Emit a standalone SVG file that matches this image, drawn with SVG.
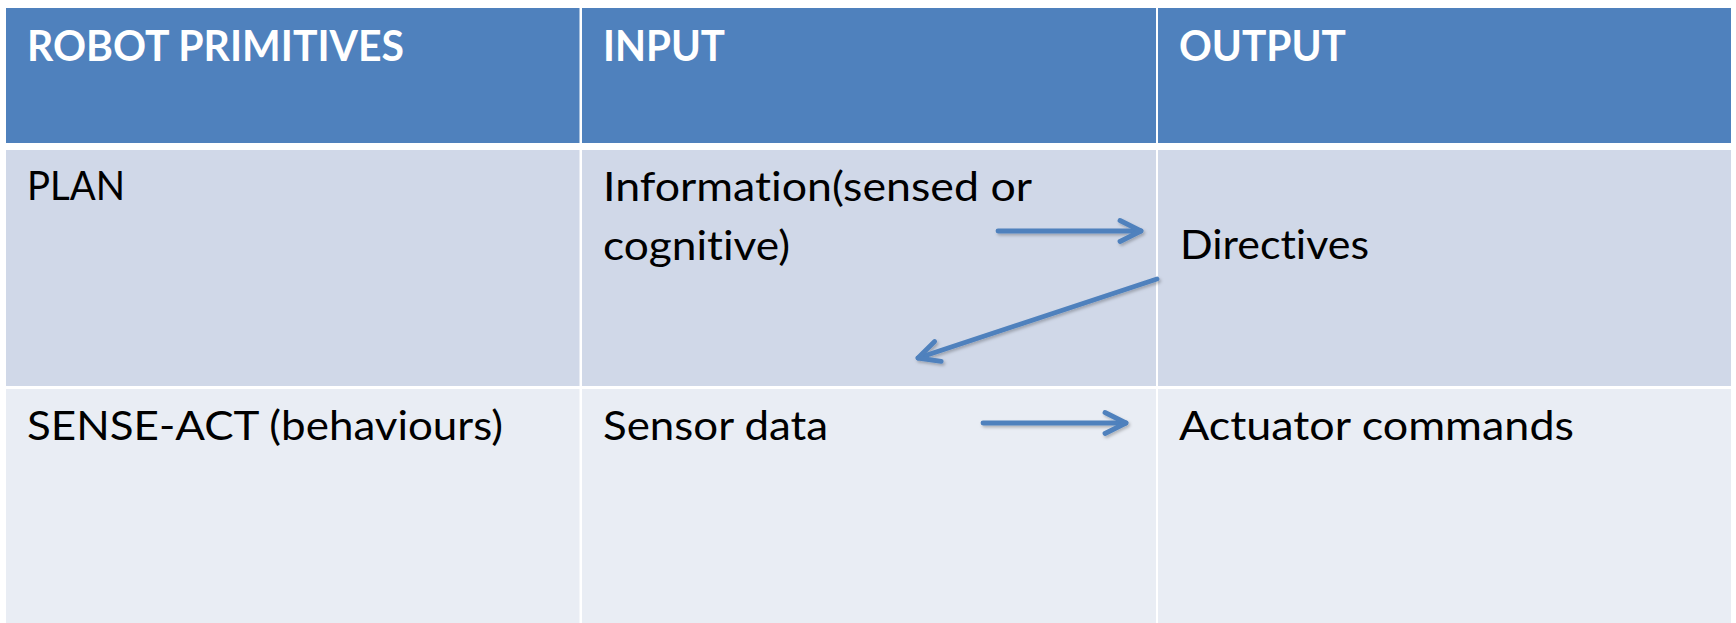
<svg xmlns="http://www.w3.org/2000/svg" width="1736" height="623" viewBox="0 0 1736 623">
  <style>
    .hdr { fill: #4F81BD; }
    .r1 { fill: #D0D8E8; }
    .r2 { fill: #E9EDF4; }
    text { font-variant-ligatures: none; font-feature-settings: "liga" 0, "clig" 0; }
    .th { font-family: Lato, "Open Sans", "Liberation Sans", sans-serif; font-weight: 700; font-size: 42px; fill: #FFFFFF; }
    .td { font-family: Lato, "Open Sans", "Liberation Sans", sans-serif; font-weight: 400; font-size: 41px; fill: #000000; }
    .arrow { fill: none; stroke: #4F81BD; stroke-width: 4.8; stroke-linecap: round; stroke-linejoin: round; }
  </style>
  <defs>
    <marker id="open-head" markerUnits="userSpaceOnUse" orient="auto" refX="0" refY="0" viewBox="-26 -15 30 30" markerWidth="30" markerHeight="30">
      <path d="M -21,-10.5 L 0,0 L -21,10.5" fill="none" stroke="#4F81BD" stroke-width="4.8" stroke-linecap="round" stroke-linejoin="round"/>
    </marker>
    <filter id="soft-shadow" x="-10%" y="-30%" width="120%" height="160%">
      <feDropShadow dx="1.5" dy="2" stdDeviation="1.5" flood-color="#000000" flood-opacity="0.25"/>
    </filter>
  </defs>

  <rect x="0" y="0" width="1736" height="623" fill="#FFFFFF"/>

  <!-- header row -->
  <g id="header-primitives">
    <rect class="hdr" x="6" y="8" width="573.5" height="135"/>
    <text class="th" x="27" y="61" textLength="377" lengthAdjust="spacingAndGlyphs">ROBOT PRIMITIVES</text>
  </g>
  <g id="header-input">
    <rect class="hdr" x="582" y="8" width="574" height="135"/>
    <text class="th" x="603" y="61" textLength="122" lengthAdjust="spacingAndGlyphs">INPUT</text>
  </g>
  <g id="header-output">
    <rect class="hdr" x="1158" y="8" width="573" height="135"/>
    <text class="th" x="1179" y="61" textLength="167" lengthAdjust="spacingAndGlyphs">OUTPUT</text>
  </g>

  <!-- PLAN row -->
  <g id="plan">
    <rect class="r1" x="6" y="150" width="573.5" height="236"/>
    <text class="td" x="27" y="200" textLength="98" lengthAdjust="spacingAndGlyphs">PLAN</text>
  </g>
  <g id="plan-input">
    <rect class="r1" x="582" y="150" width="574" height="236"/>
    <text class="td" x="603" y="201" textLength="429" lengthAdjust="spacingAndGlyphs">Information(sensed or</text>
    <text class="td" x="603" y="260" textLength="187" lengthAdjust="spacingAndGlyphs">cognitive)</text>
  </g>
  <g id="plan-output">
    <rect class="r1" x="1158" y="150" width="573" height="236"/>
    <text class="td" x="1180" y="259" textLength="189" lengthAdjust="spacingAndGlyphs">Directives</text>
  </g>

  <!-- SENSE-ACT row -->
  <g id="sense-act">
    <rect class="r2" x="6" y="389" width="573.5" height="234"/>
    <text class="td" x="27" y="440" textLength="476" lengthAdjust="spacingAndGlyphs">SENSE-ACT (behaviours)</text>
  </g>
  <g id="sense-act-input">
    <rect class="r2" x="582" y="389" width="574" height="234"/>
    <text class="td" x="603" y="440" textLength="225" lengthAdjust="spacingAndGlyphs">Sensor data</text>
  </g>
  <g id="sense-act-output">
    <rect class="r2" x="1158" y="389" width="573" height="234"/>
    <text class="td" x="1179" y="440" textLength="395" lengthAdjust="spacingAndGlyphs">Actuator commands</text>
  </g>

  <!-- connectors -->
  <g id="connectors" filter="url(#soft-shadow)">
    <path class="arrow" d="M 998,231 L 1141,231" marker-end="url(#open-head)"/>
    <path class="arrow" d="M 1157,279 L 918,358" marker-end="url(#open-head)"/>
    <path class="arrow" d="M 983,423 L 1126,423" marker-end="url(#open-head)"/>
  </g>
</svg>
